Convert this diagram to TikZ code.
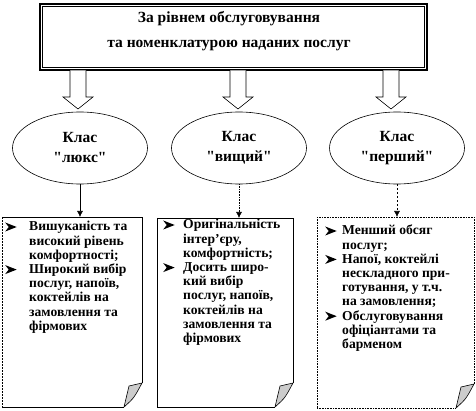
\documentclass[tikz,border=0pt]{standalone}
\usepackage{fontspec}
\setmainfont{Liberation Serif}
\newfontfamily\qfont{Liberation Serif}
\usetikzlibrary{arrows.meta,shapes.geometric}
\newcommand\bul{\tikz[baseline=0pt,x=1pt,y=1pt]\fill (0,-0.5) -- (11.5,4) -- (0,8.5) -- (3.5,4) -- cycle;}
\newcommand\qq{{\qfont\bfseries "}}
\newcommand\blockarr[1]{%
  \draw[barrow] ({#1-8},70.5) -- ({#1-8},97) -- ({#1-15},97) -- (#1,109) -- ({#1+15},97) -- ({#1+8},97) -- ({#1+8},70.5);}
\newcommand\docpage[3]{%
  \draw[#2] (#1.south west) -- ([xshift=-18pt]#1.south east);
  \draw[#2] ([yshift=24pt]#1.south east) -- (#1.north east) -- (#1.north west);
  \draw[#3] (#1.north west) -- (#1.south west);
  \filldraw[fill=gray!40, draw=black, line width=0.6pt]
    ([xshift=-18pt]#1.south east) -- ([xshift=-13pt,yshift=21pt]#1.south east)
    .. controls ([xshift=-7pt,yshift=23pt]#1.south east) .. ([yshift=24pt]#1.south east)
    .. controls ([xshift=-8pt,yshift=9pt]#1.south east) .. cycle;}
\begin{document}
\begin{tikzpicture}[x=1pt,y=-1pt,
  txt/.style={font=\fontsize{13.6}{14.2}\selectfont\bfseries, inner sep=0pt},
  ell/.style={ellipse, draw, line width=0.6pt, minimum width=135pt, minimum height=72pt,
    inner sep=0pt, align=center, font=\fontsize{15.5}{20}\selectfont\bfseries},
  conn/.style={line width=0.6pt, -{Latex[length=6pt,width=6pt]}},
  barrow/.style={draw, fill=white, line width=0.6pt},
  area/.style={draw=none, inner sep=0pt, outer sep=0pt}]
\useasboundingbox (0,0) rectangle (476,411);
% top box
\node[draw, line width=1.8pt, minimum width=387pt, minimum height=66pt, inner sep=0pt] (top) at (233.5,37) {};
\draw[line width=0.7pt] ([xshift=3.5pt,yshift=-3.5pt]top.north west) rectangle ([xshift=-3.5pt,yshift=3.5pt]top.south east);
\node[align=center, font=\fontsize{15.5}{25}\selectfont\bfseries, inner sep=0pt] (toptext) at (229,31.5)
  {За рівнем обслуговування\\та номенклатурою наданих послуг};
% block arrows
\blockarr{78}
\blockarr{238}
\blockarr{391}
% ellipses
\node[ell] (e1) at (80,148) {Клас\\\qq люкс\qq};
\node[ell] (e2) at (239,148) {Клас\\\qq вищий\qq};
\node[ell] (e3) at (397,148) {Клас\\\qq перший\qq};
% document areas
\node[area, minimum width=140pt, minimum height=190pt] (b1) at (72,312) {};
\node[area, minimum width=136pt, minimum height=189pt] (b2) at (225,312.5) {};
\node[area, minimum width=157pt, minimum height=191pt] (b3) at (395.5,312.5) {};
\docpage{b1}{line width=0.6pt}{line width=0.6pt, dashed, dash pattern=on 2pt off 1pt}
\docpage{b2}{line width=0.6pt}{line width=0.6pt}
\docpage{b3}{line width=0.6pt, densely dotted}{line width=0.6pt, densely dotted}
% connectors
\draw[conn] (e1.south) -- (e1.south |- b1.north);
\draw[conn, densely dotted] (e2.south) -- (e2.south |- b2.north);
\draw[conn, dash pattern=on 2pt off 2pt] (e3.south) -- (e3.south |- b3.north);
% texts
\node[txt, anchor=base west] (t1) at (5,231) {\begin{tabular}[t]{@{}p{24pt}@{}l@{}}
\bul & Вишуканість та\\
& високий рівень\\
& комфортності;\\
\bul & Широкий вибір\\
& послуг, напоїв,\\
& коктейлів на\\
& замовлення та\\
& фірмових
\end{tabular}};
\node[txt, anchor=base west] (t2) at (163,229) {\begin{tabular}[t]{@{}p{20pt}@{}l@{}}
\bul & Оригінальність\\
& інтер’єру,\\
& комфортність;\\
\bul & Досить широ-\\
& кий вибір\\
& послуг, напоїв,\\
& коктейлів на\\
& замовлення та\\
& фірмових
\end{tabular}};
\node[txt, anchor=base west] (t3) at (325,235) {\begin{tabular}[t]{@{}p{17pt}@{}l@{}}
\bul & Менший обсяг\\
& послуг;\\
\bul & Напої, коктейлі\\
& нескладного при-\\
& готування, у т.ч.\\
& на замовлення;\\
\bul & Обслуговування\\
& офіціантами та\\
& барменом
\end{tabular}};
\end{tikzpicture}
\end{document}
